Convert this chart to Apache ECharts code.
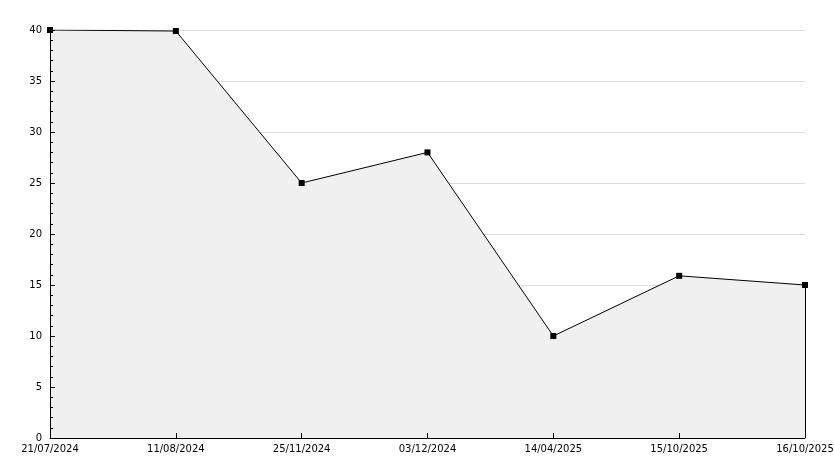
<!DOCTYPE html>
<html><head><meta charset="utf-8">
<script src="https://cdn.jsdelivr.net/npm/echarts@6/dist/echarts.min.js"></script>
<style>html,body{margin:0;padding:0;background:#fff}#c{width:834px;height:468px}</style>
</head><body><div id="c"></div>
<script>
const categories = ['21/07/2024','11/08/2024','25/11/2024','03/12/2024','14/04/2025','15/10/2025','16/10/2025'];
const values = [40, 39.9, 25, 28, 10, 15.9, 15];
const yMin = 0, yMax = 40, yStep = 5;

const chart = echarts.init(document.getElementById('c'), null, {renderer:'canvas'});
const font = {fontFamily:'DejaVu Sans', fontSize:10, color:'#000'};
const last = categories.length - 1;
chart.setOption({
  animation:false,
  grid:{left:50, right:29, top:30, bottom:30, containLabel:false, outerBoundsMode:'none'},
  xAxis:[
    {type:'category', data:categories, boundaryGap:false, z:0, position:'bottom',
      axisLine:{show:false}, axisTick:{show:false},
      axisLabel:Object.assign({margin:6, interval:0, showMinLabel:true, showMaxLabel:true}, font),
      splitLine:{show:false}},
    {type:'category', data:categories, boundaryGap:false, z:10, position:'bottom',
      axisLine:{show:true, onZero:false, lineStyle:{color:'#000', width:1}},
      axisTick:{show:true, inside:true, length:5, interval:0, lineStyle:{color:'#000'}},
      axisLabel:{show:false}, splitLine:{show:false}}
  ],
  yAxis:[
    {type:'value', min:yMin, max:yMax, interval:yStep, z:0, position:'left',
      axisLine:{show:false}, axisTick:{show:false},
      axisLabel:Object.assign({margin:8}, font),
      splitLine:{show:true, lineStyle:{color:'#dcdcdc', width:1}}},
    {type:'value', min:yMin, max:yMax, interval:yStep, z:10, position:'left',
      axisLine:{show:true, onZero:false, lineStyle:{color:'#000', width:1}},
      axisTick:{show:true, inside:true, length:5, lineStyle:{color:'#000'}},
      minorTick:{show:true, splitNumber:5, length:3, lineStyle:{color:'#000'}},
      axisLabel:{show:false}, splitLine:{show:false}}
  ],
  series:[{type:'line', data:values, xAxisIndex:0, yAxisIndex:0,
    symbol:'rect', symbolSize:6, z:2,
    itemStyle:{color:'#000'}, lineStyle:{color:'#000', width:1},
    areaStyle:{color:'#f0f0f0', opacity:1},
    markLine:{silent:true, symbol:'none', label:{show:false},
      lineStyle:{color:'#000', width:1, type:'solid'},
      data:[[{coord:[last, values[last]]},{coord:[last, yMin]}]]}
  }]
});
</script></body></html>
